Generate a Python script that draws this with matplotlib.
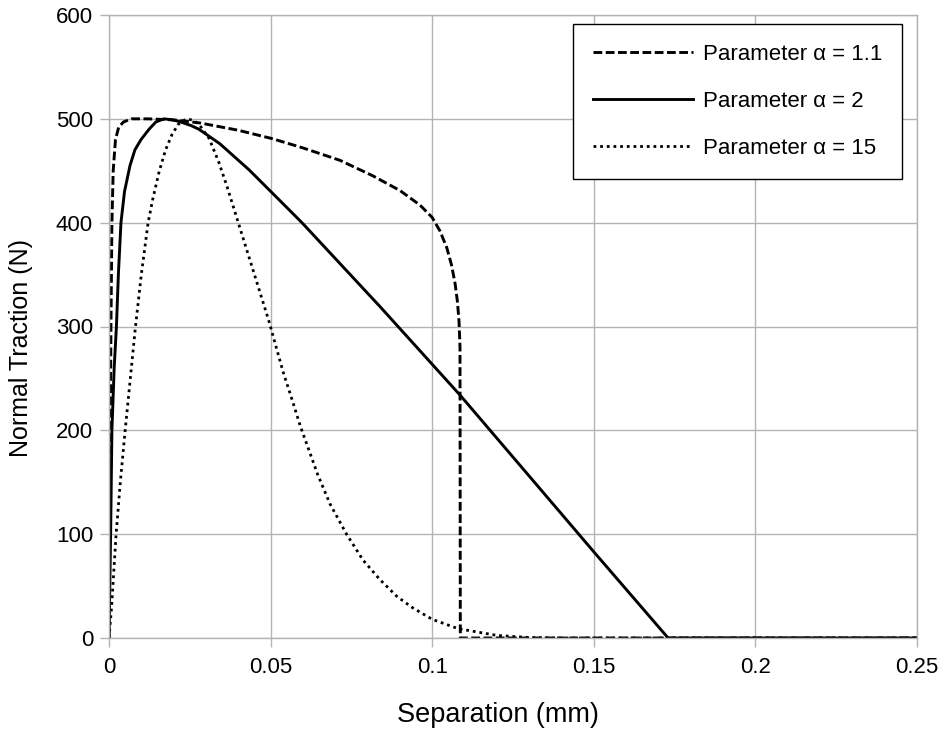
import matplotlib
matplotlib.use('Agg')
import matplotlib.pyplot as plt

# Values (separation in mm, traction in N)
x_a11 = [0, 0.0002, 0.0004, 0.0006, 0.0009, 0.0013, 0.002, 0.003, 0.0045, 0.007,
         0.012, 0.02, 0.0282, 0.04, 0.0504, 0.06, 0.0715, 0.0817, 0.090, 0.0962,
         0.1, 0.1024, 0.1045, 0.106, 0.1071, 0.1078, 0.1083, 0.1086, 0.1087, 0.25]
y_a11 = [0, 100, 200, 300, 400, 450, 480, 492, 497, 500,
         500, 499, 496, 489, 481, 472, 460, 445, 431, 417,
         405, 392, 376, 359, 341, 324, 305, 280, 0, 0]

x_a2 = [0, 0.0005, 0.0009, 0.0016, 0.0023, 0.0029, 0.0037, 0.0048, 0.0065, 0.008,
        0.0099, 0.0124, 0.0145, 0.017, 0.0192, 0.0217, 0.0254, 0.0278, 0.0343, 0.0433,
        0.052, 0.0597, 0.0839, 0.1086, 0.13, 0.15, 0.173, 0.25]
y_a2 = [0, 100, 200, 260, 300, 350, 400, 430, 455, 470,
        480, 490, 497, 500, 499.2, 497.5, 493.5, 490, 476, 451,
        424, 400, 319, 234, 156, 83, 0, 0]

x_a15 = [0, 0.0008, 0.0022, 0.0035, 0.005, 0.0066, 0.0082, 0.01, 0.0121, 0.0135,
         0.0155, 0.0175, 0.0195, 0.0215, 0.024, 0.0262, 0.028, 0.031, 0.034, 0.0365,
         0.0384, 0.0405, 0.0436, 0.0467, 0.0494, 0.0539, 0.0566, 0.0592, 0.0645, 0.0684,
         0.0735, 0.0786, 0.0839, 0.0891, 0.094, 0.1, 0.108, 0.12, 0.13, 0.14, 0.25]
y_a15 = [0, 30, 100, 150, 200, 250, 300, 350, 400, 422,
         449, 470, 485, 495, 500, 498.5, 494, 481, 458, 435,
         416, 395, 364, 333, 306, 256, 230, 204, 158, 129,
         100, 75, 56, 40, 29, 18, 9, 2.5, 0.5, 0, 0]

labels = ['Parameter α = 1.1', 'Parameter α = 2', 'Parameter α = 15']
x_ticks = [0, 0.05, 0.1, 0.15, 0.2, 0.25]
x_ticklabels = ['0', '0.05', '0.1', '0.15', '0.2', '0.25']
y_ticks = [0, 100, 200, 300, 400, 500, 600]

plt.rcParams['font.family'] = ['Liberation Sans', 'DejaVu Sans']

fig = plt.figure(figsize=(9.41, 7.33), dpi=100)
ax = fig.add_axes([109 / 941, 1 - 638 / 733, 808 / 941, 623 / 733])

grey = '#b3b3b3'
ax.plot(x_a11, y_a11, color='black', lw=2.1, linestyle=(0, (3, 1.2)),
        dash_capstyle='butt', label=labels[0])
ax.plot(x_a2, y_a2, color='black', lw=2.1, label=labels[1])
ax.plot(x_a15, y_a15, color='black', lw=2.0, linestyle=(0, (1, 1.4)),
        dash_capstyle='butt', label=labels[2])

ax.set_xlim(0, 0.25)
ax.set_ylim(0, 600)
ax.set_xticks(x_ticks)
ax.set_xticklabels(x_ticklabels)
ax.set_yticks(y_ticks)
ax.tick_params(axis='both', labelsize=16, color=grey, length=6.5, width=1)
ax.tick_params(axis='x', pad=7)
ax.tick_params(axis='y', pad=5)
ax.grid(True, color=grey, lw=1)
ax.set_axisbelow(True)
for s in ax.spines.values():
    s.set_color(grey)
    s.set_linewidth(1)

ax.set_xlabel('Separation (mm)', fontsize=19.5)
ax.set_ylabel('Normal Traction (N)', fontsize=18)
ax.xaxis.set_label_coords(0.4808, -0.103)
ax.yaxis.set_label_coords(-0.094, 0.4655)

leg = ax.legend(loc='upper right', bbox_to_anchor=(0.9814, 0.9856), borderaxespad=0,
                fontsize=16, fancybox=False, framealpha=1, edgecolor='black',
                handlelength=4.5, handletextpad=0.45, labelspacing=1.17,
                borderpad=0.9)
leg.get_frame().set_linewidth(1)

fig.savefig('out.png', dpi=100)
